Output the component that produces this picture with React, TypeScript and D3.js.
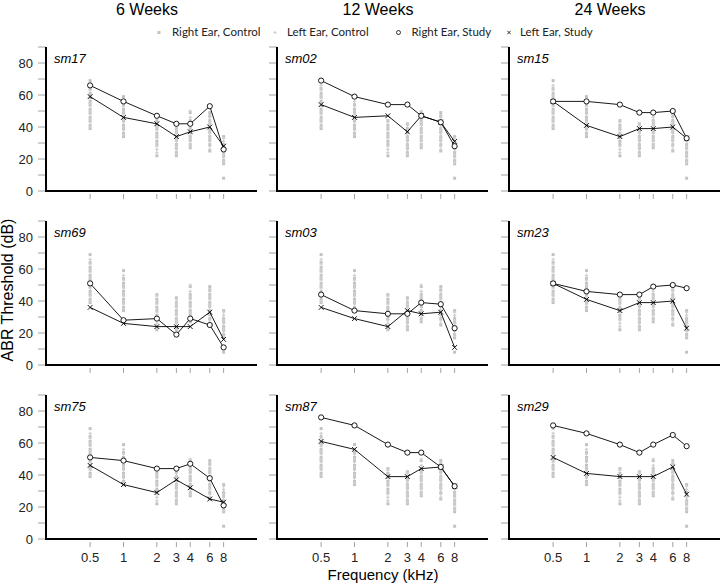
import React from 'react'
import { scaleLog, scaleLinear, line } from 'd3'

// frequencies (kHz) and week columns
const freqs = [0.5, 1, 2, 3, 4, 6, 8]
const weekTitles = ['6 Weeks', '12 Weeks', '24 Weeks']
const yTicks = [0, 10, 20, 30, 40, 50, 60, 70, 80, 90]
const yLabels = [0, 20, 40, 60, 80]

// panel ids, row by row
const panelIds = ['sm17', 'sm02', 'sm15', 'sm69', 'sm03', 'sm23', 'sm75', 'sm87', 'sm29']

// study thresholds (dB), one array per panel, per frequency
const rightStudy = [
  [66, 56, 47, 42, 42, 53, 26],
  [69, 59, 54, 54, 47, 43, 28],
  [56, 56, 54, 49, 49, 50, 33],
  [51, 28, 29, 19, 29, 25, 11],
  [44, 34, 32, 32, 39, 38, 23],
  [51, 46, 44, 44, 49, 50, 48],
  [51, 49, 44, 44, 47, 38, 21],
  [76, 71, 59, 54, 54, 45, 33],
  [71, 66, 59, 54, 59, 65, 58],
]
const leftStudy = [
  [59, 46, 42, 34, 37, 40, 28],
  [54, 46, 47, 37, 47, 43, 31],
  [56, 41, 34, 39, 39, 40, 33],
  [36, 26, 24, 24, 24, 33, 16],
  [36, 29, 24, 34, 32, 33, 11],
  [51, 41, 34, 39, 39, 40, 23],
  [46, 34, 29, 37, 32, 25, 23],
  [61, 56, 39, 39, 44, 45, 33],
  [51, 41, 39, 39, 39, 45, 28],
]

// control group thresholds (dB), per frequency
const rightControl = [
  [39, 41, 44, 46, 49, 51, 54, 56, 59, 61, 64, 69],
  [34, 36, 39, 41, 44, 46, 49, 51, 54, 59],
  [22, 29, 31, 34, 36, 39, 41, 44],
  [22, 24, 27, 29, 32, 34, 37, 39, 42],
  [27, 29, 32, 34, 37, 39, 42, 44, 49],
  [25, 29, 32, 34, 37, 39, 42, 44, 47, 49],
  [8, 17, 19, 22, 24, 27, 29, 34],
]
const leftControl = [
  [40, 43, 45, 48, 50, 53, 55, 58, 60, 63, 66],
  [35, 38, 40, 43, 45, 48, 50, 53, 56],
  [24, 26, 28, 33, 35, 38, 40, 43],
  [23, 26, 28, 31, 33, 36, 38, 41],
  [28, 31, 33, 36, 38, 41, 43, 46, 50],
  [26, 28, 31, 33, 36, 38, 41, 43, 46],
  [18, 21, 23, 26, 28, 31, 33],
]

const colX = [46, 277, 509]
const rowY = [191, 365, 539]
const panelW = 211
const panelH = 144
const ctrlGray = '#c2c2c2'
const tickGray = '#8a8a8a'
const font = 'Liberation Sans, Arial, sans-serif'

const Cross = ({ x, y, s = 2.4 }) => (
  <path d={`M${x - s},${y - s}L${x + s},${y + s}M${x - s},${y + s}L${x + s},${y - s}`} stroke='#000' strokeWidth={0.9} />
)

const Panel = ({ idx }) => {
  const col = idx % 3
  const row = Math.floor(idx / 3)
  const x0 = colX[col]
  const y0 = rowY[row]
  const xscale = scaleLog().domain([0.2, 16]).range([x0, x0 + panelW])
  const yscale = scaleLinear().domain([0, 90]).range([y0, y0 - panelH])
  const lineGen = line<number>().x((d, i) => xscale(freqs[i])).y(d => yscale(d))

  return (
    <g>
      {/* control dots */}
      {freqs.map((f, i) => (
        <g key={'c' + f}>
          {rightControl[i].map((v, j) => (
            <rect key={'r' + j} x={xscale(f) - 1.5} y={yscale(v) - 1.5} width={3} height={3} fill={ctrlGray} />
          ))}
          {leftControl[i].map((v, j) => (
            <path key={'l' + j}
              d={`M${xscale(f) - 1.6},${yscale(v)}L${xscale(f) + 1.6},${yscale(v)}M${xscale(f)},${yscale(v) - 1.6}L${xscale(f)},${yscale(v) + 1.6}`}
              stroke='#cfcfcf' strokeWidth={1.2} />
          ))}
        </g>
      ))}

      {/* y ticks */}
      {yTicks.map(t => (
        <line key={'yt' + t} x1={x0 - 8} x2={x0} y1={yscale(t)} y2={yscale(t)} stroke={tickGray} strokeWidth={0.8} />
      ))}
      {col === 0 && yLabels.map(t => (
        <text key={'yl' + t} x={x0 - 13} y={yscale(t)} dy='0.35em' textAnchor='end' fontSize='13px' fill='#222' fontFamily={font}>{t}</text>
      ))}

      {/* x ticks */}
      {freqs.map(f => (
        <line key={'xt' + f} x1={xscale(f)} x2={xscale(f)} y1={y0 + 3} y2={y0 + 8} stroke={tickGray} strokeWidth={0.8} />
      ))}
      {row === 2 && freqs.map(f => (
        <text key={'xl' + f} x={xscale(f)} y={y0 + 23} textAnchor='middle' fontSize='13px' fill='#222' fontFamily={font}>{f}</text>
      ))}

      {/* axes */}
      <line x1={x0} x2={x0} y1={y0 - panelH} y2={y0 + 1} stroke='#000' strokeWidth={2} />
      <line x1={x0} x2={x0 + panelW} y1={y0} y2={y0} stroke='#000' strokeWidth={2} />

      {/* study lines */}
      <path d={lineGen(rightStudy[idx]) || ''} fill='none' stroke='#000' strokeWidth={0.9} />
      <path d={lineGen(leftStudy[idx]) || ''} fill='none' stroke='#000' strokeWidth={0.9} />
      {leftStudy[idx].map((v, i) => (
        <Cross key={'x' + i} x={xscale(freqs[i])} y={yscale(v)} />
      ))}
      {rightStudy[idx].map((v, i) => (
        <circle key={'o' + i} cx={xscale(freqs[i])} cy={yscale(v)} r={2.6} fill='#fff' stroke='#000' strokeWidth={0.9} />
      ))}

      <text x={x0 + 8} y={y0 - panelH + 16} fontSize='13px' fontStyle='italic' fontFamily={font} fill='#000'>{panelIds[idx]}</text>
    </g>
  )
}

const App = () => {
  const legendFont = 'Lato, Open Sans, sans-serif'
  return (
    <svg width={720} height={586} viewBox='0 0 720 586' style={{ position: 'absolute', left: 0, top: 0, background: '#fff' }}>
      <rect width={720} height={586} fill='#fff' />
      {weekTitles.map((t, i) => (
        <text key={t} x={colX[i] + 101} y={15} textAnchor='middle' fontSize='16px' fontFamily={font} fill='#000'>{t}</text>
      ))}

      {/* legend */}
      <g fontSize='11.5px' fontFamily={legendFont} fill='#222'>
        <rect x={157.5} y={31} width={3} height={3} fill={ctrlGray} />
        <text x={172} y={36}>Right Ear, Control</text>
        <path d='M273.4,32.5L276.6,32.5M275,30.9L275,34.1' stroke='#cfcfcf' strokeWidth={1.2} />
        <text x={287} y={36}>Left Ear, Control</text>
        <circle cx={398.5} cy={32.5} r={2} fill='#fff' stroke='#000' strokeWidth={0.8} />
        <text x={411.5} y={36}>Right Ear, Study</text>
        <path d='M507.3,30.8L510.7,34.2M507.3,34.2L510.7,30.8' stroke='#000' strokeWidth={0.8} />
        <text x={520} y={36}>Left Ear, Study</text>
      </g>

      {panelIds.map((id, i) => <Panel key={id} idx={i} />)}

      <text transform='translate(13,290) rotate(-90)' textAnchor='middle' fontSize='16px' fontFamily={font} fill='#000'>ABR Threshold (dB)</text>
      <text x={383} y={580} textAnchor='middle' fontSize='15px' fontFamily={font} fill='#000'>Frequency (kHz)</text>
    </svg>
  )
}

export default App
